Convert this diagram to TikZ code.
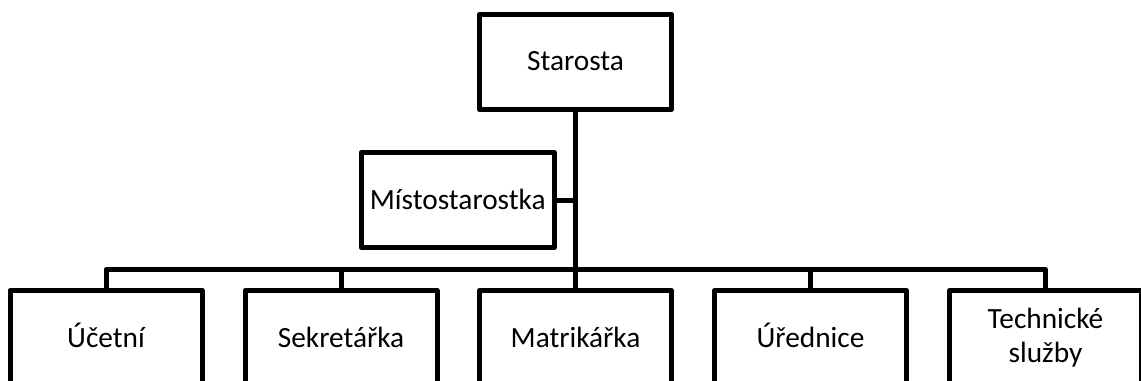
\documentclass[tikz,border=0pt]{standalone}
\usepackage{fontspec}
\setmainfont{Carlito}
\begin{document}
\begin{tikzpicture}[x=0.75pt,y=-0.75pt,
  box/.style={draw=black, line width=3.75pt, line join=round, fill=white,
    minimum width=144pt, minimum height=71.25pt, inner sep=0pt, outer sep=0pt,
    align=center, text height=16.5pt, text depth=3pt,
    font=\fontsize{22}{25.5}\selectfont},
  link/.style={draw=black, line width=3.75pt, line join=round}]
\useasboundingbox (0,0) rectangle (1141,381);
\clip (0,0) rectangle (1141,381);

% head of the office
\node[box] (sta) at (575.5,61.75) {Starosta};
% deputy
\node[box, minimum width=145pt] (mis) at (457.75,200) {Místostarostka};

% staff row
\node[box] (uce) at (106,338) {Účetní};
\node[box] (sek) at (341,338) {Sekretářka};
\node[box] (mat) at (575.5,338) {Matrikářka};
\node[box] (ure) at (810.5,338) {Úřednice};
\node[box, text height=, text depth=] (tec) at (1045.5,338) {Technické\\služby};

\coordinate (bus) at (575.5,269.5);

% connectors
\draw[link] (sta.south) -- (mat.north);
\draw[link] (mis.east) -- (mis.east -| sta.south);
\draw[link] (uce.north) -- (uce.north |- bus) -- (tec.north |- bus) -- (tec.north);
\draw[link] (sek.north) -- (sek.north |- bus);
\draw[link] (ure.north) -- (ure.north |- bus);
\end{tikzpicture}
\end{document}
